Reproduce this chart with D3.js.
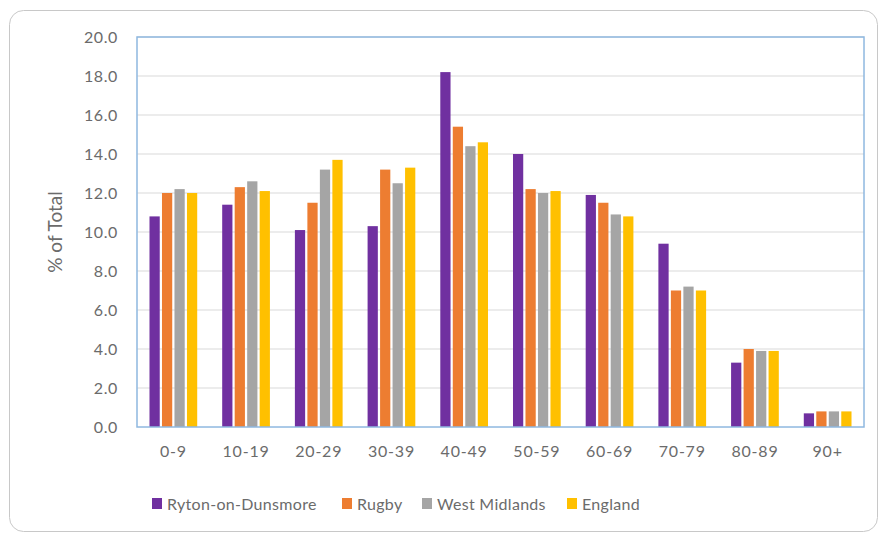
<!DOCTYPE html>
<html><head><meta charset="utf-8">
<script src="https://cdn.jsdelivr.net/npm/d3@7"></script>
<style>body{margin:0;background:#fff}svg{display:block}text{font-family:Lato,"Open Sans",sans-serif;fill:#6b6b6b}</style>
</head><body><svg id="c" width="880" height="534"></svg>
<script>
const categories = ["0-9","10-19","20-29","30-39","40-49","50-59","60-69","70-79","80-89","90+"];
const seriesNames = ["Ryton-on-Dunsmore","Rugby","West Midlands","England"];
const ryton = [10.8,11.4,10.1,10.3,18.2,14.0,11.9,9.4,3.3,0.7];
const rugby = [12.0,12.3,11.5,13.2,15.4,12.2,11.5,7.0,4.0,0.8];
const westMidlands = [12.2,12.6,13.2,12.5,14.4,12.0,10.9,7.2,3.9,0.8];
const england = [12.0,12.1,13.7,13.3,14.6,12.1,10.8,7.0,3.9,0.8];
const colors = ["#7030A0","#ED7D31","#A5A5A5","#FFC000"];
const yTicks = [0,2,4,6,8,10,12,14,16,18,20];

const series = [ryton, rugby, westMidlands, england];
const svg = d3.select("#c");
svg.append("rect").attr("x",9.5).attr("y",10.5).attr("width",868).attr("height",521).attr("rx",14)
  .attr("fill","#fff").attr("stroke","#c8c8c8").attr("stroke-width",1);

const L=137, R=864, T=37, B=427;
const x = d3.scaleBand().domain(categories).range([L,R]).paddingInner(0).paddingOuter(0);
const xi = d3.scaleBand().domain(seriesNames).range([0,x.bandwidth()]).paddingInner(0.18).paddingOuter(1.0);
const y = d3.scaleLinear().domain([0,20]).range([B,T]);

svg.append("g").selectAll("line").data(yTicks.slice(1)).join("line")
  .attr("x1",L).attr("x2",R).attr("y1",d=>y(d)).attr("y2",d=>y(d))
  .attr("stroke","#d9d9d9").attr("stroke-width",1);

const g = svg.append("g");
series.forEach((vals,si)=>{
  g.append("g").selectAll("rect").data(vals).join("rect")
    .attr("x",(d,i)=>x(categories[i])+xi(seriesNames[si]))
    .attr("width",xi.bandwidth())
    .attr("y",d=>y(d)).attr("height",d=>B-y(d))
    .attr("fill",colors[si]);
});

svg.append("rect").attr("x",L).attr("y",T).attr("width",R-L).attr("height",B-T)
  .attr("fill","none").attr("stroke","#8fb8e0").attr("stroke-width",1.5);

const yAxis = svg.append("g").attr("transform",`translate(${L},0)`)
  .call(d3.axisLeft(y).tickValues(yTicks).tickFormat(d3.format(".1f")).tickSize(0).tickPadding(19));
yAxis.select(".domain").remove();
yAxis.selectAll("text").style("font-size","16px").style("letter-spacing","0.6px").attr("fill","#6b6b6b");

const xAxis = svg.append("g").attr("transform",`translate(0,${B})`)
  .call(d3.axisBottom(x).tickSize(0).tickPadding(19));
xAxis.select(".domain").remove();
xAxis.selectAll("text").style("font-size","16px").style("letter-spacing","0.8px").attr("fill","#6b6b6b");

svg.append("text").attr("transform","translate(62,232) rotate(-90)").attr("text-anchor","middle")
  .style("font-size","19px").text("% of Total");

const legX = [152,342,422,567];
const leg = svg.append("g");
seriesNames.forEach((n,i)=>{
  leg.append("rect").attr("x",legX[i]).attr("y",498).attr("width",10).attr("height",11).attr("fill",colors[i]);
  leg.append("text").attr("x",legX[i]+15).attr("y",510).style("font-size","16px").style("letter-spacing","0.3px").text(n);
});
</script></body></html>
